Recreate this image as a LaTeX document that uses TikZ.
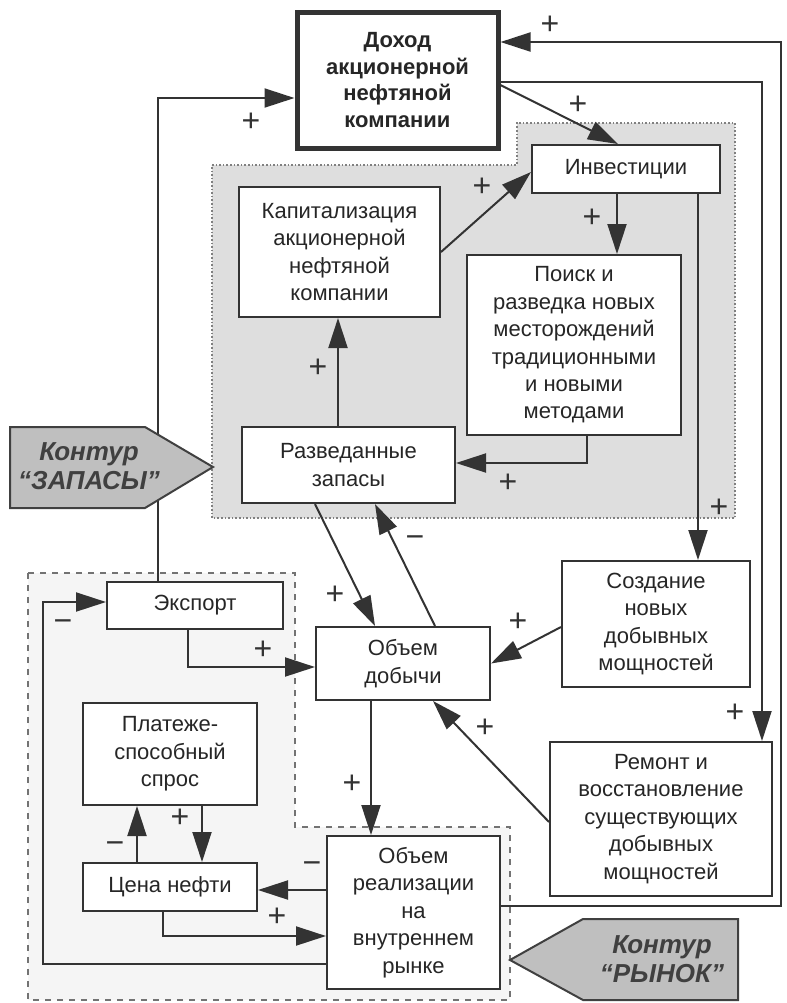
\documentclass[tikz,border=0pt]{standalone}
\usepackage{fontspec}
\setmainfont{Liberation Sans}
\usetikzlibrary{arrows.meta}

\tikzset{
  box/.style={draw=black!80, line width=1pt, fill=white, align=center, inner sep=2pt,
    text=black!85, font=\fontsize{11}{13.7}\selectfont},
  mainbox/.style={box, line width=2.5pt, font=\fontsize{11}{13.4}\selectfont\bfseries},
  arr/.style={draw=black!80, line width=1pt, -{Triangle[length=15pt,width=9.5pt]}},
  sign/.style={font=\fontsize{16}{16}\selectfont, text=black!80, inner sep=0pt},
  kontur/.style={font=\fontsize{13}{14.5}\selectfont\bfseries\itshape, text=black!75,
    align=center, inner sep=0pt},
  kshape/.style={draw=black!75, line width=1pt, fill=black!25},
  zone/.style={draw=black!50, densely dotted, line width=0.8pt, fill=black!13},
  market/.style={draw=black!55, dashed, line width=0.8pt, fill=black!4},
}

\begin{document}
\begin{tikzpicture}[x=0.5pt,y=-0.5pt]
\useasboundingbox (0,0) rectangle (787,1003);

% contours
\draw[zone] (212,165) -- (517,165) -- (517,123) -- (735,123) -- (735,518) -- (212,518) -- cycle;
\draw[market] (28,573) -- (295,573) -- (295,827) -- (510,827) -- (510,1000) -- (28,1000) -- cycle;

% blocks
\node[mainbox, minimum width=100.5pt, minimum height=68pt] (dohod) at (397.5,80) {Доход\\акционерной\\нефтяной\\компании};
\node[box, minimum width=94pt, minimum height=24pt] (invest) at (626,169) {Инвестиции};
\node[box, minimum width=100.5pt, minimum height=65pt] (kapit) at (339.5,252) {Капитализация\\акционерной\\нефтяной\\компании};
\node[box, minimum width=107pt, minimum height=90pt] (poisk) at (574,345) {Поиск и\\разведка новых\\месторождений\\традиционными\\и новыми\\методами};
\node[box, minimum width=106.5pt, minimum height=38pt] (razved) at (348.5,465) {Разведанные\\запасы};
\node[box, minimum width=88pt, minimum height=23.5pt] (export) at (195,605.5) {Экспорт};
\node[box, minimum width=87pt, minimum height=36.5pt] (dobycha) at (403,663.5) {Объем\\добычи};
\node[box, minimum width=94pt, minimum height=63pt] (sozd) at (656,624) {Создание\\новых\\добывных\\мощностей};
\node[box, minimum width=87pt, minimum height=51pt] (plat) at (170,754) {Платеже-\\способный\\спрос};
\node[box, minimum width=111pt, minimum height=77pt] (remont) at (661,819) {Ремонт и\\восстановление\\существующих\\добывных\\мощностей};
\node[box, minimum width=87pt, minimum height=24pt] (cena) at (170,887) {Цена нефти};
\node[box, minimum width=86.5pt, minimum height=76.5pt] (realiz) at (413.5,912.5) {Объем\\реализации\\на\\внутреннем\\рынке};

\coordinate (rt) at (781,42);
\coordinate (lt) at (43,602);

% links
\draw[arr] ([xshift=-18.5pt]export.north) |- ([yshift=-9pt]dohod.west);
\draw[arr] ([yshift=3.25pt]realiz.east) -| (rt) -- ([yshift=19pt]dohod.east);
\draw[arr] ([yshift=-1pt]dohod.east) -| ([xshift=50.5pt]remont.north);
\draw[arr] ([yshift=-2.5pt]dohod.east) -- ([xshift=-4pt]invest.north);
\draw[arr] (kapit.east) -- ([yshift=-1.5pt]invest.west);
\draw[arr] ([xshift=-4.5pt]invest.south) -- ([xshift=21.5pt]poisk.north);
\draw[arr] ([xshift=36pt]invest.south) -- ([xshift=21pt]sozd.north);
\draw[arr] ([xshift=6.5pt]poisk.south) |- ([yshift=1pt]razved.east);
\draw[arr] ([xshift=-5.25pt]razved.north) -- ([xshift=-0.75pt]kapit.south);
\draw[arr] ([xshift=-16.75pt]razved.south) -- ([xshift=-14pt]dobycha.north);
\draw[arr] ([xshift=16pt]dobycha.north) -- ([xshift=13.25pt]razved.south);
\draw[arr] ([xshift=-3.5pt]export.south) |- ([yshift=-1.75pt]dobycha.west);
\draw[arr] ([yshift=-1.5pt]sozd.west) -- (dobycha.east);
\draw[arr] ([yshift=-1.5pt]remont.west) -- ([xshift=15pt]dobycha.south);
\draw[arr] ([xshift=-16pt]dobycha.south) -- ([xshift=-21.25pt]realiz.north);
\draw[arr] ([yshift=11.25pt]realiz.west) -- ([yshift=-1.5pt]cena.east);
\draw[arr] ([xshift=-3.5pt]cena.south) |- ([yshift=-11.75pt]realiz.west);
\draw[arr] ([xshift=-16.5pt]cena.north) -- ([xshift=-16.5pt]plat.south);
\draw[arr] ([xshift=16pt]plat.south) -- ([xshift=16pt]cena.north);
\draw[arr] ([yshift=-25.75pt]realiz.west) -| (lt) -- ([yshift=1.75pt]export.west);

% signs
\node[sign] (s1) at (251,122) {+};
\node[sign] (s2) at (550,25) {+};
\node[sign] (s3) at (578,105) {+};
\node[sign] (s4) at (482,187) {+};
\node[sign] (s5) at (592,218) {+};
\node[sign] (s6) at (719,508) {+};
\node[sign] (s7) at (508,483) {+};
\node[sign] (s8) at (318,368) {+};
\node[sign] (s9) at (335,595) {+};
\node[sign] (s10) at (415,542) {−};
\node[sign] (s11) at (263,650) {+};
\node[sign] (s12) at (518,622) {+};
\node[sign] (s13) at (485,728) {+};
\node[sign] (s14) at (352,784) {+};
\node[sign] (s15) at (312,868) {−};
\node[sign] (s16) at (277,917) {+};
\node[sign] (s17) at (115,848) {−};
\node[sign] (s18) at (180,818) {+};
\node[sign] (s19) at (63,626) {−};
\node[sign] (s20) at (735,713) {+};

% contour labels
\draw[kshape] (10,427) -- (145,427) -- (213,467) -- (145,508) -- (10,508) -- cycle;
\node[kontur] (kzap) at (89,466) {Контур\\“ЗАПАСЫ”};
\draw[kshape] (510,960) -- (583,919) -- (738,919) -- (738,1000) -- (583,1000) -- cycle;
\node[kontur] (kryn) at (662,959) {Контур\\“РЫНОК”};

\end{tikzpicture}
\end{document}
